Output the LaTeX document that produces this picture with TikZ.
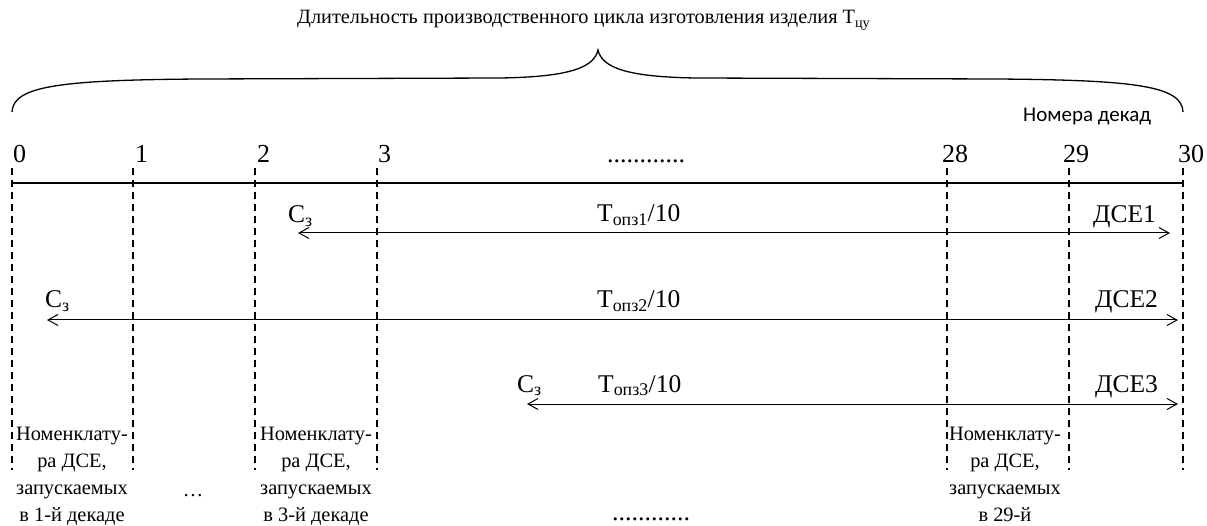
\documentclass[tikz,border=0pt]{standalone}
\usepackage{fontspec}
\setmainfont{LiberationSerif}[Extension=.ttf,UprightFont=*-Regular,BoldFont=*-Bold,ItalicFont=*-Italic,BoldItalicFont=*-BoldItalic]
\newfontfamily\calib{Carlito}
\usetikzlibrary{arrows.meta}
\begin{document}
\begin{tikzpicture}[x=1pt,y=-1pt,
  axisline/.style={line width=2.6pt},
  guide/.style={line width=1.3pt,dash pattern=on 7pt off 5pt},
  dur/.style={line width=1pt,{Straight Barb[length=10pt,width=11pt,line width=1pt]}-{Straight Barb[length=10pt,width=11pt,line width=1pt]}},
  bracestyle/.style={line width=1.3pt},
  num/.style={font=\fontsize{26}{26}\selectfont,anchor=base west,inner sep=0pt},
  lbl/.style={font=\fontsize{25.5}{26}\selectfont,anchor=base west,inner sep=0pt},
  note/.style={font=\fontsize{20.4}{27}\selectfont,align=center,anchor=north,inner sep=0pt},
  titlestyle/.style={font=\fontsize{20.3}{20}\selectfont,anchor=base west,inner sep=0pt},
  legend/.style={font=\calib\fontsize{21}{21}\selectfont,anchor=base west,inner sep=0pt}]
\useasboundingbox (0,0) rectangle (1207,526);

% title and brace
\node[titlestyle] (title) at (297,24) {Длительность производственного цикла изготовления изделия Т\textsubscript{цу}};
\coordinate (bl) at (12,112);
\coordinate (bm) at (598,50);
\coordinate (br) at (1183,112);
\draw[bracestyle] (bl) .. controls (13,86) and (60,80) .. (200,79) -- (500,78) .. controls (568,77) and (594,68) .. (bm)
  .. controls (602,68) and (628,77) .. (696,78) -- (996,79) .. controls (1136,80) and (1182,86) .. (br);

\node[legend] (leg) at (1023,122) {Номера декад};

% axis
\coordinate (a0) at (12,183);
\coordinate (a30) at (1183,183);
\draw[axisline] (a0) -- (a30);

% guide lines and numbers
\foreach \n/\x/\lx in {0/12/13, 1/133/135, 2/255/257, 3/377/378, 28/947/942, 29/1069/1063, 30/1183/1178}{
  \coordinate (g\n t) at (\x,168);
  \coordinate (g\n b) at (\x,470);
  \draw[guide] (g\n t) -- (g\n b);
  \node[num] (n\n) at (\lx,163) {\n};
}
\node[num] (topdots) at (607,163) {............};

% durations
\coordinate (r1l) at (298,233); \coordinate (r1r) at (1170,233);
\coordinate (r2l) at (47,320);  \coordinate (r2r) at (1178,320);
\coordinate (r3l) at (527,404); \coordinate (r3r) at (1178,404);
\draw[dur] (r1l) -- (r1r);
\draw[dur] (r2l) -- (r2r);
\draw[dur] (r3l) -- (r3r);

\node[lbl] (c1) at (288,223) {С\textsubscript{з}};
\node[lbl] (t1) at (597,222) {Т\textsubscript{опз1}/10};
\node[lbl] (d1) at (1093,223) {ДСЕ1};
\node[lbl] (c2) at (45,308) {С\textsubscript{з}};
\node[lbl] (t2) at (597,308) {Т\textsubscript{опз2}/10};
\node[lbl] (d2) at (1095,308) {ДСЕ2};
\node[lbl] (c3) at (517,392) {С\textsubscript{з}};
\node[lbl] (t3) at (598,392) {Т\textsubscript{опз3}/10};
\node[lbl] (d3) at (1095,392) {ДСЕ3};

% bottom notes
\node[note] (m1) at (72,427) {Номенклату-\\ра ДСЕ,\\запускаемых\\в 1-й декаде};
\node[note] (m2) at (316,427) {Номенклату-\\ра ДСЕ,\\запускаемых\\в 3-й декаде};
\node[note] (m3) at (1005,427) {Номенклату-\\ра ДСЕ,\\запускаемых\\в 29-й};
\node[font=\fontsize{20.4}{20}\selectfont,anchor=base,inner sep=0pt] (ell) at (193,496) {…};
\node[font=\fontsize{26}{26}\selectfont,anchor=base west,inner sep=0pt] (botdots) at (612,520) {............};
\end{tikzpicture}
\end{document}
